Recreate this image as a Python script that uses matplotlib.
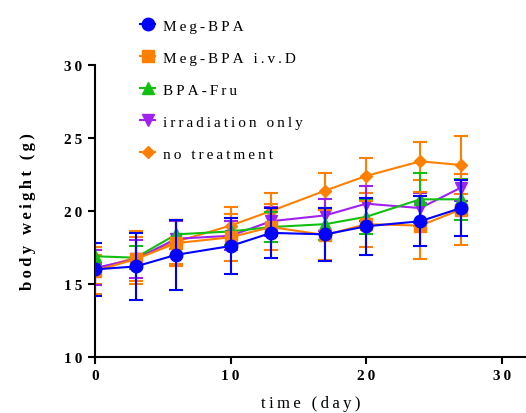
import numpy as np
import matplotlib
matplotlib.use("Agg")
import matplotlib.pyplot as plt
from matplotlib.lines import Line2D

# body weight over time per group (mean and SD)
days = [0, 3, 6, 10, 13, 17, 20, 24, 27]

groups = ["Meg-BPA", "Meg-BPA i.v.D", "BPA-Fru", "irradiation only", "no treatment"]

meg_bpa = [16.0, 16.2, 17.0, 17.6, 18.5, 18.4, 18.95, 19.3, 20.2]
meg_bpa_sd = [1.8, 2.3, 2.4, 1.9, 1.7, 1.8, 1.95, 1.7, 1.9]

meg_bpa_ivd = [15.9, 16.7, 17.8, 18.2, 18.9, 18.35, 19.1, 19.0, 20.1]
meg_bpa_ivd_sd = [1.6, 1.5, 1.6, 1.6, 1.6, 1.7, 1.6, 2.3, 2.4]

bpa_fru = [16.9, 16.8, 18.4, 18.6, 18.9, 19.1, 19.6, 20.8, 20.8]
bpa_fru_sd = [0.6, 0.8, 1.0, 0.9, 1.0, 1.1, 1.2, 1.8, 1.4]

irr_only = [16.1, 16.7, 18.1, 18.3, 19.3, 19.7, 20.5, 20.2, 21.6]
irr_only_sd = [1.2, 1.3, 1.2, 1.0, 1.0, 1.1, 1.2, 1.0, 0.9]

no_treat = [16.0, 16.8, 17.9, 19.0, 20.0, 21.4, 22.4, 23.4, 23.15]
no_treat_sd = [1.0, 1.8, 1.5, 1.3, 1.2, 1.2, 1.2, 1.3, 2.0]

means = [meg_bpa, meg_bpa_ivd, bpa_fru, irr_only, no_treat]
sds = [meg_bpa_sd, meg_bpa_ivd_sd, bpa_fru_sd, irr_only_sd, no_treat_sd]
colors = ["#0000FF", "#FF8000", "#10C010", "#A020F0", "#FF8000"]
markers = ["o", "s", "^", "v", "D"]
msizes = [9, 8, 8, 8, 6]

plt.rcParams['font.family'] = ['Liberation Serif', 'DejaVu Serif']

def spaced(s):
    # widen letter spacing with thin spaces
    return "\u2009".join(s)

fig = plt.figure(figsize=(5.26, 4.14), dpi=100)
ax = fig.add_axes([0.1806, 0.1353, 0.8194, 0.7053])

# blue drawn last so it sits on top
for i in [4, 3, 2, 1, 0]:
    ax.errorbar(days, means[i], yerr=sds[i], color=colors[i], marker=markers[i],
                markersize=msizes[i], lw=1.5, elinewidth=1.5, capsize=5, capthick=1.5,
                zorder=3 + (4 - i))

ax.set_xlim(0, 31.8)
ax.set_ylim(10, 30)
ax.set_xticks([0, 10, 20, 30])
ax.set_yticks([10, 15, 20, 25, 30])
ax.set_xticklabels([spaced(str(v)) for v in [0, 10, 20, 30]], fontweight='bold', fontsize=11)
ax.set_yticklabels([spaced(str(v)) for v in [10, 15, 20, 25, 30]], fontweight='bold', fontsize=11)
ax.spines['top'].set_visible(False)
ax.spines['right'].set_visible(False)
ax.spines['left'].set_linewidth(1.5)
ax.spines['bottom'].set_linewidth(1.5)
ax.tick_params(width=1.5, length=5, pad=4)

ax.set_xlabel(spaced("time (day)"), fontsize=12, labelpad=9)
ax.set_ylabel(spaced("body weight (g)"), fontsize=12, fontweight='bold', labelpad=20)

handles = [Line2D([], [], color=colors[i], marker=markers[i], markersize=msizes[i], lw=1.5)
           for i in range(len(groups))]
fig.legend(handles, [spaced(g) for g in groups],
           loc='upper left', bbox_to_anchor=(0.24, 0.985), frameon=False,
           fontsize=11, handlelength=1.0, handletextpad=0.5, labelspacing=1.2)

fig.savefig("out.png", dpi=100)
